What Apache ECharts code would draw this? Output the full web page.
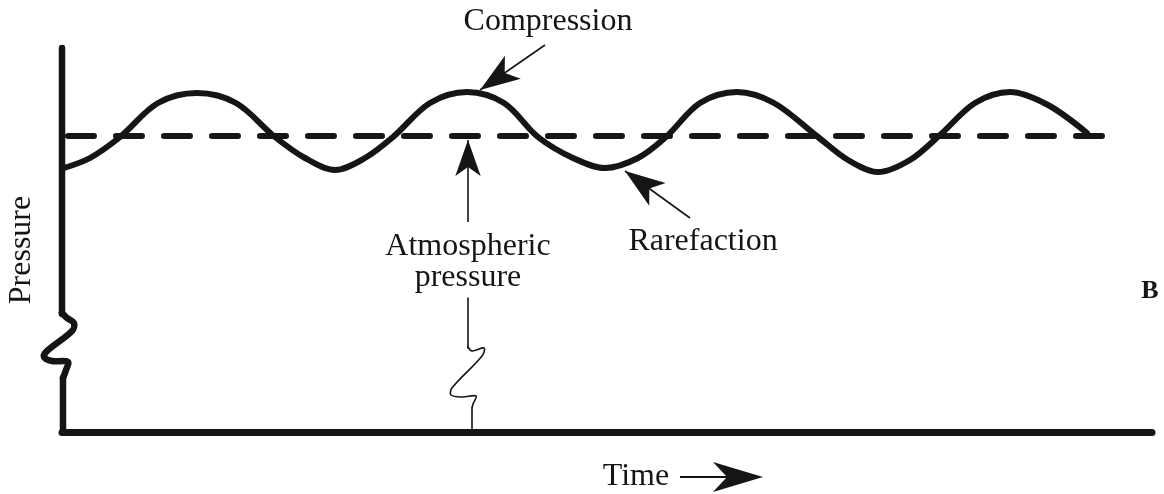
<!DOCTYPE html>
<html><head><meta charset="utf-8">
<script src="https://cdn.jsdelivr.net/npm/echarts@6/dist/echarts.min.js"></script>
<style>html,body{margin:0;padding:0;background:#fff}#c{width:1164px;height:494px}</style>
</head><body><div id="c"></div>
<script>
// ---- data (arbitrary time / pressure units) ----
const waveTime = [2, 28, 58, 96, 135, 174, 213, 243, 273, 303, 331, 368, 405, 442, 476, 511, 543, 576, 604, 638, 675, 712, 756, 786, 816, 848, 878, 913, 948, 986, 1025];
const wavePressure = [264, 274, 295, 329, 339, 329, 295, 274, 262, 274, 295, 329, 340, 329, 295, 274, 264, 274, 295, 329, 340, 329, 295, 272, 260, 272, 297, 329, 340, 327, 299];
const atmosphericTime = [6, 1056];
const atmosphericPressure = [296, 296];
const axisNames = ['Time', 'Pressure'];
const annotationTexts = ['Compression', 'Atmospheric', 'pressure', 'Rarefaction'];
const panelLetter = 'B';
// arrows: [tailTime, tailPressure, tipTime, tipPressure]
const compressionArrow = [483, 387, 418, 342];
const atmosphericArrow = [406, 210, 406, 292];
const rarefactionArrow = [628, 214, 563, 261];
const pressureAxisTop = 384;

const INK = '#151515';
const SERIF = '"Liberation Serif", "Times New Roman", serif';
const chart = echarts.init(document.getElementById('c'), null, {renderer: 'canvas'});

function arrowLine(a, size) {
  return [{coord: [a[0], a[1]], symbol: 'none'},
          {coord: [a[2], a[3]], symbol: 'arrow', symbolSize: size}];
}

chart.setOption({
  animation: false,
  backgroundColor: '#fff',
  grid: {left: 62, right: 12, top: 32, bottom: 62},
  xAxis: {type: 'value', min: 0, max: 1090,
    axisLine: {show: true, onZero: false, lineStyle: {color: INK, width: 7, cap: 'round'}},
    axisTick: {show: false}, axisLabel: {show: false}, splitLine: {show: false}},
  yAxis: {type: 'value', min: 0, max: 400,
    axisLine: {show: false}, axisTick: {show: false}, axisLabel: {show: false}, splitLine: {show: false}},
  series: [
    {type: 'line', data: waveTime.map((t, i) => [t, wavePressure[i]]), smooth: 0.33,
      showSymbol: false, silent: true, z: 3,
      lineStyle: {color: INK, width: 6, cap: 'round', join: 'round'}},
    {type: 'line', data: atmosphericTime.map((t, i) => [t, atmosphericPressure[i]]),
      showSymbol: false, silent: true, z: 2,
      lineStyle: {color: INK, width: 6, type: [26, 22], cap: 'round'},
      markLine: {silent: true, animation: false, label: {show: false},
        lineStyle: {color: INK, width: 1.6, type: 'solid'},
        emphasis: {disabled: true},
        data: [arrowLine(compressionArrow, [21, 40]), arrowLine(atmosphericArrow, [19, 36]), arrowLine(rarefactionArrow, [21, 40])]}}
  ]
});

const tl = chart.convertToPixel({gridIndex: 0}, [0, pressureAxisTop]);
const bl = chart.convertToPixel({gridIndex: 0}, [0, 0]);
const ax = tl[0], topY = tl[1], bottomY = bl[1];
const atmX = chart.convertToPixel({gridIndex: 0}, [atmosphericArrow[0], 0])[0];

const thick = {stroke: INK, lineWidth: 6.5, lineCap: 'round', lineJoin: 'round', fill: null};
const thin = {stroke: INK, lineWidth: 1.6, lineCap: 'round', lineJoin: 'round', fill: null};

chart.setOption({
  graphic: [
    {type: 'line', shape: {x1: ax, y1: topY, x2: ax, y2: 314}, style: thick, silent: true},
    {type: 'polyline', shape: {smooth: 0.35, points: [[ax, 313], [ax + 5, 318], [ax + 12, 323], [ax + 10, 331], [ax - 15, 351], [ax - 18, 357], [ax - 10, 361], [ax + 6, 362], [ax + 4, 370], [ax + 1, 378]]}, style: thick, silent: true},
    {type: 'line', shape: {x1: ax + 1, y1: 378, x2: ax + 1, y2: bottomY}, style: thick, silent: true},
    {type: 'line', shape: {x1: atmX, y1: 298, x2: atmX, y2: 348}, style: thin, silent: true},
    {type: 'polyline', shape: {smooth: 0.35, points: [[atmX, 347], [atmX + 4, 351], [atmX + 16, 348], [atmX + 14, 356], [atmX - 16, 388], [atmX - 17, 395], [atmX - 6, 397], [atmX + 8, 396], [atmX + 5, 404], [atmX + 4, 408]]}, style: thin, silent: true},
    {type: 'line', shape: {x1: atmX + 4, y1: 408, x2: atmX + 4, y2: bottomY - 3}, style: thin, silent: true},
    {type: 'text', x: 548, y: 22, style: {text: annotationTexts[0], font: '32px ' + SERIF, fill: INK, align: 'center', verticalAlign: 'middle'}, silent: true},
    {type: 'text', x: atmX, y: 247, style: {text: annotationTexts[1], font: '32px ' + SERIF, fill: INK, align: 'center', verticalAlign: 'middle'}, silent: true},
    {type: 'text', x: atmX, y: 278, style: {text: annotationTexts[2], font: '32px ' + SERIF, fill: INK, align: 'center', verticalAlign: 'middle'}, silent: true},
    {type: 'text', x: 703, y: 242, style: {text: annotationTexts[3], font: '32px ' + SERIF, fill: INK, align: 'center', verticalAlign: 'middle'}, silent: true},
    {type: 'text', x: 22, y: 250, rotation: Math.PI / 2, style: {text: axisNames[1], font: '32px ' + SERIF, fill: INK, align: 'center', verticalAlign: 'middle'}, silent: true},
    {type: 'text', x: 636, y: 477, style: {text: axisNames[0], font: '32px ' + SERIF, fill: INK, align: 'center', verticalAlign: 'middle'}, silent: true},
    {type: 'text', x: 1150, y: 291, style: {text: panelLetter, font: 'bold 26px ' + SERIF, fill: INK, align: 'center', verticalAlign: 'middle'}, silent: true},
    {type: 'line', shape: {x1: 680, y1: 477, x2: 728, y2: 477}, style: {stroke: INK, lineWidth: 2}, silent: true},
    {type: 'polygon', shape: {points: [[763, 477], [713, 462], [727, 477], [713, 492]]}, style: {fill: INK}, silent: true}
  ]
});
</script></body></html>
